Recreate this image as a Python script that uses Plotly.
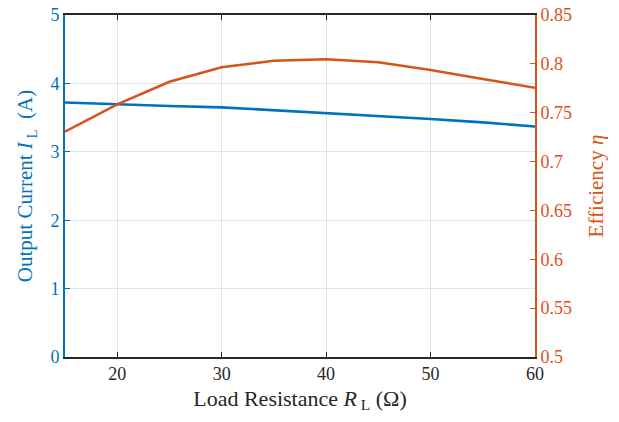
import plotly.graph_objects as go

resistance = [15, 20, 25, 30, 35, 40, 45, 50, 55, 60]
current = [3.72, 3.69, 3.67, 3.65, 3.61, 3.57, 3.53, 3.48, 3.43, 3.37]
efficiency = [0.7306, 0.7586, 0.7817, 0.7965, 0.8032, 0.8047, 0.8016, 0.7937, 0.7845, 0.7756]

x_ticks = [20, 30, 40, 50, 60]
left_ticks = [0, 1, 2, 3, 4, 5]
right_ticks = [0.5, 0.55, 0.6, 0.65, 0.7, 0.75, 0.8, 0.85]

BLUE = "#0072BD"
ORANGE = "#D95319"
FONT = "Liberation Serif, Times New Roman, serif"

fig = go.Figure()
fig.add_trace(go.Scatter(x=resistance, y=current, mode="lines",
                         line=dict(color=BLUE, width=2.6), yaxis="y", showlegend=False))
fig.add_trace(go.Scatter(x=resistance, y=efficiency, mode="lines",
                         line=dict(color=ORANGE, width=2.6), yaxis="y2", showlegend=False))

fig.update_layout(
    width=619, height=422,
    margin=dict(l=65, r=84, t=15, b=65),
    plot_bgcolor="white", paper_bgcolor="white",
    font=dict(family=FONT, size=18, color="#262626"),
    xaxis=dict(
        range=[15, 60], tickvals=x_ticks, ticktext=[str(v) for v in x_ticks],
        showline=True, linecolor="#262626", linewidth=1.5, mirror="ticks",
        ticks="inside", ticklen=5, tickcolor="#262626", tickwidth=1.2,
        showgrid=True, gridcolor="#e2e2e2", gridwidth=1, zeroline=False,
        tickfont=dict(family=FONT, size=18, color="#262626"),
        automargin=False,
        title=dict(text="Load Resistance <i>R</i><sub> L</sub> (Ω)", font=dict(family=FONT, size=22, color="#262626"), standoff=7),
    ),
    yaxis=dict(
        range=[0, 5], tickvals=left_ticks,
        showline=True, linecolor=BLUE, linewidth=1.8,
        ticks="inside", ticklen=5, tickcolor=BLUE, tickwidth=1.2,
        showgrid=True, gridcolor="#dbe5ee", gridwidth=1, zeroline=False,
        tickfont=dict(family=FONT, size=18, color=BLUE),
        automargin=False,
        title=dict(text="Output Current <i>I</i><sub> L</sub>  (A)", font=dict(family=FONT, size=21, color=BLUE), standoff=12),
    ),
    yaxis2=dict(
        range=[0.5, 0.85], tickvals=right_ticks, ticktext=[("%g" % v) for v in right_ticks],
        overlaying="y", side="right",
        showline=True, linecolor=ORANGE, linewidth=1.8,
        ticks="inside", ticklen=5, tickcolor=ORANGE, tickwidth=1.2,
        showgrid=False, zeroline=False,
        tickfont=dict(family=FONT, size=18, color=ORANGE),
        automargin=False,
        title=dict(text="Efficiency <i>η</i>", font=dict(family=FONT, size=21, color=ORANGE), standoff=17),
    ),
)

fig.write_html("out.html", config={"displayModeBar": False},
               post_script="document.body.style.margin='0';")
